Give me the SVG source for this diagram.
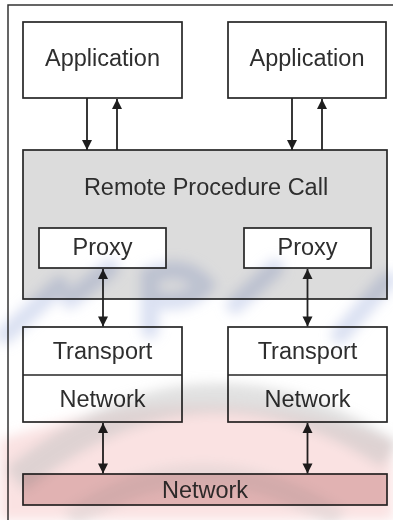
<svg xmlns="http://www.w3.org/2000/svg" width="393" height="520" viewBox="0 0 393 520">
  <defs>
    <style>
      .box { fill: #ffffff; stroke: #262626; stroke-width: 1.7; }
      .rpc { fill: #dcdcdc; stroke: #262626; stroke-width: 1.7; }
      .wire { fill: #e6c9c9; stroke: #262626; stroke-width: 1.7; }
      .lbl { font-family: "Liberation Sans", Arial, sans-serif; font-size: 23.5px; fill: #2e2e2e; text-anchor: middle; }
      .link { stroke: #222; stroke-width: 1.8; fill: none; }
      #tint { mix-blend-mode: multiply; }
    </style>
    <marker id="head" viewBox="0 0 10 11" refX="10" refY="5.5" markerWidth="11" markerHeight="11" markerUnits="userSpaceOnUse" orient="auto-start-reverse">
      <path d="M0,0.5 L10,5.5 L0,10.5 Z" fill="#1e1e1e"/>
    </marker>
    <filter id="soft" x="-20%" y="-20%" width="140%" height="140%">
      <feGaussianBlur stdDeviation="6"/>
    </filter>
  </defs>

  <!-- background -->
  <rect x="0" y="0" width="393" height="520" fill="#ffffff"/>

  <!-- outer frame -->
  <path d="M8,520 V5 H393" fill="none" stroke="#333" stroke-width="1.5"/>

  <g id="app-left">
    <rect class="box" x="23" y="22" width="159" height="76"/>
    <text class="lbl" x="102.5" y="66">Application</text>
  </g>
  <g id="app-right">
    <rect class="box" x="228" y="22" width="158" height="76"/>
    <text class="lbl" x="307" y="66">Application</text>
  </g>

  <g id="rpc">
    <rect class="rpc" x="23" y="150" width="364" height="149"/>
    <text class="lbl" x="206" y="195">Remote Procedure Call</text>
  </g>
  <g id="proxy-left">
    <rect class="box" x="39" y="228" width="127" height="40"/>
    <text class="lbl" x="102.5" y="255">Proxy</text>
  </g>
  <g id="proxy-right">
    <rect class="box" x="244" y="228" width="127" height="40"/>
    <text class="lbl" x="307.5" y="255">Proxy</text>
  </g>

  <g id="stack-left">
    <rect class="box" x="23" y="327" width="159" height="95"/>
    <line x1="23" y1="375" x2="182" y2="375" stroke="#262626" stroke-width="1.7"/>
    <text class="lbl" x="102.5" y="359">Transport</text>
    <text class="lbl" x="102.5" y="407">Network</text>
  </g>
  <g id="stack-right">
    <rect class="box" x="228" y="327" width="159" height="95"/>
    <line x1="228" y1="375" x2="387" y2="375" stroke="#262626" stroke-width="1.7"/>
    <text class="lbl" x="307.5" y="359">Transport</text>
    <text class="lbl" x="307.5" y="407">Network</text>
  </g>

  <g id="network-bus">
    <rect class="wire" x="23" y="474" width="364" height="31"/>
    <text class="lbl" x="205" y="498">Network</text>
  </g>

  <g id="connectors">
    <line class="link" x1="87" y1="98" x2="87" y2="150" marker-end="url(#head)"/>
    <line class="link" x1="117" y1="150" x2="117" y2="99" marker-end="url(#head)"/>
    <line class="link" x1="292" y1="98" x2="292" y2="150" marker-end="url(#head)"/>
    <line class="link" x1="322" y1="150" x2="322" y2="99" marker-end="url(#head)"/>
    <line class="link" x1="103" y1="269" x2="103" y2="326.5" marker-start="url(#head)" marker-end="url(#head)"/>
    <line class="link" x1="307.5" y1="269" x2="307.5" y2="326.5" marker-start="url(#head)" marker-end="url(#head)"/>
    <line class="link" x1="103" y1="423" x2="103" y2="473.5" marker-start="url(#head)" marker-end="url(#head)"/>
    <line class="link" x1="307.5" y1="423" x2="307.5" y2="473.5" marker-start="url(#head)" marker-end="url(#head)"/>
  </g>

  <!-- translucent tint multiplied over the lower half -->
  <g id="tint" filter="url(#soft)" pointer-events="none">
    <g fill="none" stroke="#c3cdea" stroke-opacity="0.6" stroke-width="18" stroke-linecap="round">
      <path d="M5,335 L60,285"/>
      <path d="M70,300 L110,268"/>
      <path d="M150,330 L150,275 Q185,262 205,285 Q190,305 155,300"/>
      <path d="M235,305 L275,268"/>
      <path d="M340,335 L388,280"/>
    </g>
    <path d="M0,520 L0,440 Q200,370 393,440 L393,520 Z" fill="#f6caca" fill-opacity="0.55"/>
    <path d="M15,480 Q200,330 390,455" fill="none" stroke="#c4c4c4" stroke-opacity="0.5" stroke-width="30"/>
    <path d="M70,520 Q200,430 340,520" fill="none" stroke="#c8c8c8" stroke-opacity="0.35" stroke-width="22"/>
  </g>
</svg>
